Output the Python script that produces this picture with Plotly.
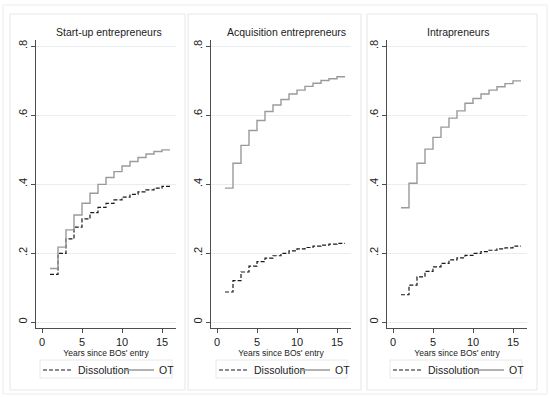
import plotly.graph_objects as go

W, H = 550, 398

years = list(range(1, 17))
panel_titles = ["Start-up entrepreneurs", "Acquisition entrepreneurs", "Intrapreneurs"]
x_ticks = [0, 5, 10, 15]
y_ticks = [0, 0.2, 0.4, 0.6, 0.8]
y_tick_labels = ["0", ".2", ".4", ".6", ".8"]

# values for years 1..15 (last value held to year 16)
startup_dissolution = [0.138, 0.199, 0.241, 0.275, 0.299, 0.317, 0.332, 0.344, 0.354,
                       0.362, 0.370, 0.377, 0.383, 0.388, 0.393]
startup_ot = [0.155, 0.217, 0.267, 0.310, 0.344, 0.373, 0.399, 0.419, 0.436,
              0.452, 0.465, 0.477, 0.487, 0.494, 0.499]
acq_dissolution = [0.087, 0.120, 0.145, 0.162, 0.175, 0.185, 0.192, 0.199, 0.206,
                   0.212, 0.216, 0.220, 0.223, 0.226, 0.228]
acq_ot = [0.388, 0.460, 0.512, 0.555, 0.584, 0.610, 0.629, 0.645, 0.661,
          0.672, 0.683, 0.692, 0.700, 0.705, 0.711]
intra_dissolution = [0.079, 0.107, 0.131, 0.147, 0.160, 0.170, 0.180, 0.186, 0.193,
                     0.199, 0.204, 0.208, 0.212, 0.215, 0.220]
intra_ot = [0.331, 0.402, 0.460, 0.501, 0.535, 0.565, 0.591, 0.612, 0.634,
            0.648, 0.661, 0.672, 0.682, 0.691, 0.699]

series = [(startup_dissolution, startup_ot),
          (acq_dissolution, acq_ot),
          (intra_dissolution, intra_ot)]

FONT = "Liberation Sans, Arial, sans-serif"
px = lambda x: x / W
py = lambda y: 1 - y / H

# pixel layout
plot_left = [36, 211, 387]
plot_w = 140
plot_top, plot_bot = 40, 328
zero_px = [42, 217, 393]
box_x = [(10, 185), (188, 361), (367, 537)]
title_cx = [109, 286, 458]
legend_box = [(40, 172), (216, 347), (390, 522)]

fig = go.Figure()
for i, (diss, ot) in enumerate(series):
    sfx = "" if i == 0 else str(i + 1)
    leg = "legend" if i == 0 else f"legend{i+1}"
    fig.add_trace(go.Scatter(
        x=years, y=diss + [diss[-1]], mode="lines", line_shape="hv",
        line=dict(color="#1a1a1a", width=1.2, dash="4px,2px"),
        name="Dissolution", xaxis="x" + sfx, yaxis="y" + sfx, legend=leg))
    fig.add_trace(go.Scatter(
        x=years, y=ot + [ot[-1]], mode="lines", line_shape="hv",
        line=dict(color="#9a9a9a", width=1.4),
        name="OT", xaxis="x" + sfx, yaxis="y" + sfx, legend=leg))

layout = dict(
    width=W, height=H, margin=dict(l=0, r=0, t=0, b=0),
    paper_bgcolor="white", plot_bgcolor="white",
    font=dict(family=FONT, color="#222"),
    showlegend=True,
)

ppu_y = 345.0  # pixels per unit on y
y_range = [-(plot_bot - 322) / ppu_y, (322 - plot_top) / ppu_y]

for i in range(3):
    sfx = "" if i == 0 else str(i + 1)
    xl = plot_left[i]
    xr = xl + plot_w
    x_range = [(xl - zero_px[i]) / 8.0, (xr - zero_px[i]) / 8.0]
    layout["xaxis" + sfx] = dict(
        domain=[px(xl), px(xr)], range=x_range, anchor="y" + sfx,
        tickvals=x_ticks, ticks="outside", ticklen=4, tickcolor="#4d4d4d",
        showline=True, linecolor="#4d4d4d", linewidth=1, showgrid=False, zeroline=False,
        tickfont=dict(size=11, color="#222"),
        title=dict(text="Years since BOs' entry", font=dict(size=8.5, color="#222"), standoff=0),
    )
    layout["yaxis" + sfx] = dict(
        domain=[py(plot_bot), py(plot_top)], range=y_range, anchor="x" + sfx,
        tickvals=y_ticks, ticktext=y_tick_labels, tickangle=-90,
        ticks="outside", ticklen=4, tickcolor="#4d4d4d",
        showline=True, linecolor="#4d4d4d", linewidth=1,
        showgrid=True, gridcolor="#e8eef0", gridwidth=1, zeroline=False,
        tickfont=dict(size=11, color="#222"),
    )
    leg = "legend" if i == 0 else f"legend{i+1}"
    layout[leg] = dict(
        orientation="h", x=px(legend_box[i][0] - 2), xanchor="left",
        y=py(370), yanchor="middle",
        font=dict(size=10.5, color="#222", family=FONT),
        borderwidth=0, bgcolor="rgba(0,0,0,0)",
        itemwidth=30, entrywidth=36, entrywidthmode="pixels",
    )

fig.update_layout(**layout)

# outer frame, panel frames and legend frames
fig.add_shape(type="rect", xref="paper", yref="paper",
              x0=px(3), x1=px(547), y0=py(394), y1=py(5),
              line=dict(color="#ececec", width=1), layer="below")
for (x0, x1) in box_x:
    fig.add_shape(type="rect", xref="paper", yref="paper",
                  x0=px(x0), x1=px(x1), y0=py(390), y1=py(14),
                  line=dict(color="#e6e6e6", width=1), layer="below")
for (x0, x1) in legend_box:
    fig.add_shape(type="rect", xref="paper", yref="paper",
                  x0=px(x0), x1=px(x1), y0=py(378), y1=py(360),
                  line=dict(color="#e8e8e8", width=1), fillcolor="white", layer="below")

for i, t in enumerate(panel_titles):
    fig.add_annotation(text=t, xref="paper", yref="paper", x=px(title_cx[i]), y=py(32),
                       xanchor="center", yanchor="middle", showarrow=False,
                       font=dict(size=10.5, color="#222", family=FONT))

fig.write_html("out.html")
